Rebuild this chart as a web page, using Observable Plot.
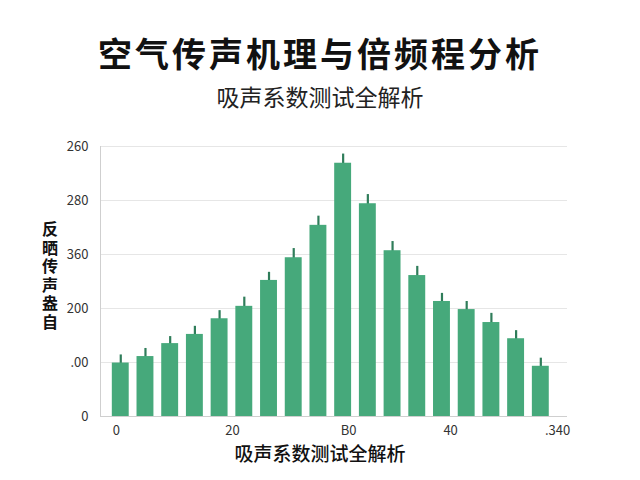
<!DOCTYPE html>
<html>
<head>
<meta charset="utf-8">
<script src="https://cdn.jsdelivr.net/npm/d3@7"></script>
<script src="https://cdn.jsdelivr.net/npm/@observablehq/plot@0.6"></script>
<style>
  html, body { margin: 0; padding: 0; background: #fff; }
  body { width: 640px; height: 480px; overflow: hidden; position: relative; font-family: "Noto Sans CJK SC", "Noto Sans", sans-serif; }
  #title { position: absolute; left: 0; width: 640px; top: 33px; text-align: center; font-size: 34px; font-weight: 700; letter-spacing: 3px; line-height: 40px; color: #111; }
  #subtitle { position: absolute; left: 0; width: 640px; top: 82px; text-align: center; font-size: 23px; font-weight: 400; line-height: 28px; color: #222; }
  #chart { position: absolute; left: 0; top: 114px; }
  #chart svg { display: block; }
  #ytitle { position: absolute; left: 41px; top: 221px; writing-mode: vertical-rl; text-orientation: upright; font-size: 16px; font-weight: 700; letter-spacing: 2.6px; line-height: 18px; color: #111; }
  #xtitle { position: absolute; left: 0; width: 640px; top: 443px; text-align: center; font-size: 19px; font-weight: 500; line-height: 19px; color: #111; }
</style>
</head>
<body>
<div id="title">空气传声机理与倍频程分析</div>
<div id="subtitle">吸声系数测试全解析</div>
<div id="chart"></div>
<div id="ytitle"></div>
<div id="xtitle"></div>
<script>
// Data (bar index, value, upper error)
const values = [99, 111, 135, 152, 181, 204, 252, 294, 354, 469, 394, 307, 261, 213, 198, 174, 144, 93];
const errors = [15, 15, 13, 15, 15, 17, 15, 17, 17, 17, 17, 17, 17, 15, 15, 17, 15, 15];
const yTicks = [0, 100, 200, 300, 400, 500];
const yTickLabels = ["0", ".00", "200", "360", "280", "260"];
const xTicks = [0.32, 5.02, 9.72, 13.85, 18.18];
const xTickLabels = ["0", "20", "B0", "40", ".340"];
const xTitle = "吸声系数测试全解析";
const yTitle = "反晒传声盎自";

const data = values.map((v, i) => ({i, v, e: errors[i]}));

const barColor = "#46a97b";
const errColor = "#2f7d5a";

const chart = Plot.plot({
  width: 640,
  height: 366,
  marginTop: 32,
  marginBottom: 64,
  marginLeft: 100,
  marginRight: 73,
  style: {fontFamily: "'Noto Sans CJK SC', 'Noto Sans', sans-serif", fontSize: "13px", color: "#333", background: "#fff"},
  x: {domain: [-0.32, 18.58], ticks: xTicks, tickFormat: (d) => xTickLabels[xTicks.indexOf(d)], tickSize: 0, tickPadding: 9, label: null},
  y: {domain: [0, 500], ticks: yTicks, tickFormat: (d) => yTickLabels[yTicks.indexOf(d)], tickSize: 0, tickPadding: 12, label: null, grid: false},
  marks: [
    Plot.gridY(yTicks.slice(1), {stroke: "#e6e6e6", strokeOpacity: 1}),
    Plot.ruleX(data, {x: (d) => d.i + 0.5, y1: (d) => d.v - d.e, y2: (d) => d.v + d.e, stroke: errColor, strokeWidth: 2.2}),
    Plot.rectY(data, {x1: "i", x2: (d) => d.i + 1, y: "v", fill: barColor, insetLeft: 3.9, insetRight: 3.9}),
    Plot.ruleX([-0.32], {stroke: "#cfcfcf"}),
    Plot.ruleY([0], {stroke: "#cfcfcf"})
  ]
});
document.getElementById("chart").appendChild(chart);
document.getElementById("ytitle").textContent = yTitle;
document.getElementById("xtitle").textContent = xTitle;
</script>
</body>
</html>
